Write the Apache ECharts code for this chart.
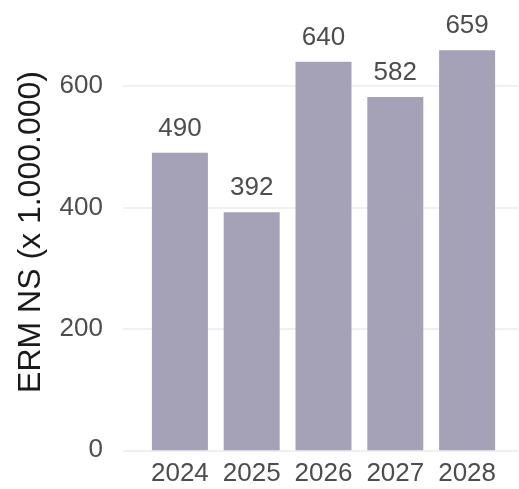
<!DOCTYPE html>
<html>
<head>
<meta charset="utf-8">
<script src="https://cdn.jsdelivr.net/npm/echarts@6/dist/echarts.min.js"></script>
<style>
html,body{margin:0;padding:0;background:#fff;}
#chart{width:519px;height:489px;}
</style>
</head>
<body>
<div id="chart"></div>
<script>
const categories = ['2024', '2025', '2026', '2027', '2028'];
const values = [490, 392, 640, 582, 659];
const yTicks = [0, 200, 400, 600];
const yTitle = 'ERM NS (x 1.000.000)';

const FONT = 'Liberation Sans, Arial, Helvetica, sans-serif';
const chart = echarts.init(document.getElementById('chart'), null, {renderer: 'canvas'});
const yMax = 700;
const pxPerUnit = 364.3 / 600;
const gBottom = 38.7;
const gTop = (489 - gBottom) - yMax * pxPerUnit;
const GRID = '#EBEBEB';

chart.setOption({
  animation: false,
  backgroundColor: '#ffffff',
  grid: [
    {left: 144, right: 16, top: gTop, bottom: gBottom},
    {left: 123, right: 1, top: gTop, bottom: gBottom},
    {left: 123, right: 1, top: 13.7, bottom: gBottom}
  ],
  xAxis: [
    {
      type: 'category', gridIndex: 0, data: categories,
      axisLine: {show: false}, axisTick: {show: false},
      axisLabel: {color: '#4D4D4D', fontSize: 26, fontFamily: FONT, margin: 11, interval: 0, hideOverlap: false}
    },
    {type: 'value', gridIndex: 1, show: false, min: 0, max: 1},
    {type: 'value', gridIndex: 2, show: false, min: 0, max: 1}
  ],
  yAxis: [
    {
      type: 'value', gridIndex: 0, min: 0, max: yMax, interval: 200,
      show: false
    },
    {
      type: 'value', gridIndex: 1, min: 0, max: yMax, interval: 200,
      axisLine: {show: false}, axisTick: {show: false},
      splitLine: {show: true, showMaxLine: false,
        lineStyle: {color: [GRID, GRID, GRID, GRID, 'rgba(255,255,255,0)'], width: 1.5}},
      axisLabel: {
        color: '#4D4D4D', fontSize: 26, fontFamily: FONT, margin: 20,
        showMaxLabel: false,
        formatter: function (v) { return yTicks.indexOf(v) >= 0 ? String(v) : ''; }
      }
    },
    {
      type: 'value', gridIndex: 2, min: 0, max: 1,
      axisLine: {show: false}, axisTick: {show: false},
      axisLabel: {show: false}, splitLine: {show: false},
      name: yTitle, nameLocation: 'middle', nameGap: 76, nameRotate: 90,
      nameTextStyle: {color: '#1A1A1A', fontSize: 32, fontFamily: FONT}
    }
  ],
  series: [
    {
      type: 'bar', xAxisIndex: 0, yAxisIndex: 0,
      data: values, barWidth: 56,
      itemStyle: {color: '#A5A1B7'},
      label: {
        show: true, position: 'top', distance: 11,
        color: '#4D4D4D', fontSize: 26, fontFamily: FONT
      }
    }
  ]
});
</script>
</body>
</html>
